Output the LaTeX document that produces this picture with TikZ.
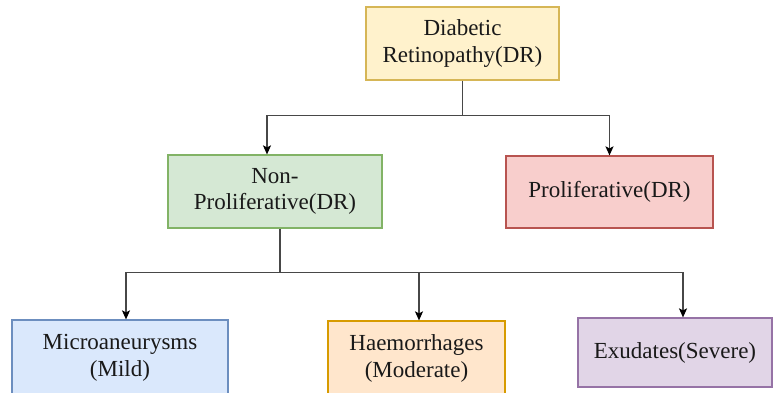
\documentclass[tikz,border=0pt]{standalone}
\usepackage{fontspec}
\setmainfont{Liberation Serif}
\usetikzlibrary{arrows.meta}
\definecolor{yfill}{HTML}{FFF2CC}\definecolor{ydraw}{HTML}{D6B656}
\definecolor{gfill}{HTML}{D5E8D4}\definecolor{gdraw}{HTML}{82B366}
\definecolor{rfill}{HTML}{F8CECC}\definecolor{rdraw}{HTML}{B85450}
\definecolor{bfill}{HTML}{DAE8FC}\definecolor{bdraw}{HTML}{6C8EBF}
\definecolor{ofill}{HTML}{FFE6CC}\definecolor{odraw}{HTML}{D79B00}
\definecolor{pfill}{HTML}{E1D5E7}\definecolor{pdraw}{HTML}{9673A6}
\tikzset{
  box/.style={draw, line width=1.2pt, align=center, inner sep=0pt,
    font=\fontsize{23}{26.5}\selectfont, text=black!90},
  conn/.style={line width=1.3pt, draw=black!72},
  arr/.style={conn, -{Stealth[length=9pt,width=8pt,inset=2pt,black]}}
}
\begin{document}
\begin{tikzpicture}[x=1pt,y=1pt]
\useasboundingbox (0,0) rectangle (774,392);
\clip (0,0) rectangle (774,392);
\fill[white] (0,0) rectangle (774,392);
\node[box, fill=yfill, draw=ydraw, minimum width=193pt, minimum height=73pt] (top) at (462.5,348.5) {Diabetic\\Retinopathy(DR)};
\node[box, fill=gfill, draw=gdraw, minimum width=214pt, minimum height=73pt] (green) at (275,200.5) {Non-\\Proliferative(DR)};
\node[box, fill=rfill, draw=rdraw, minimum width=207pt, minimum height=72pt] (red) at (609.5,200) {Proliferative(DR)};
\node[box, fill=bfill, draw=bdraw, minimum width=216pt, minimum height=76pt] (blue) at (120,34) {Microaneurysms\\(Mild)};
\node[box, fill=ofill, draw=odraw, minimum width=177pt, minimum height=75pt] (orange) at (416.5,33.5) {Haemorrhages\\(Moderate)};
\node[box, fill=pfill, draw=pdraw, minimum width=194pt, minimum height=69pt] (purple) at (675,39.5) {Exudates(Severe)};
% first level
\draw[conn] (top.south) -- ++(0,-35) coordinate (j1);
\draw[arr] (j1) -| ([xshift=-8pt]green.north);
\draw[arr] (j1) -| (red.north);
% second level
\draw[conn] ([xshift=5pt]green.south) -- ++(0,-44) coordinate (j2);
\draw[arr] (j2) -| ([xshift=6pt]blue.north);
\draw[arr] (j2) -| ([xshift=2.5pt]orange.north);
\draw[arr] (j2) -| ([xshift=8pt]purple.north);
\end{tikzpicture}
\end{document}
